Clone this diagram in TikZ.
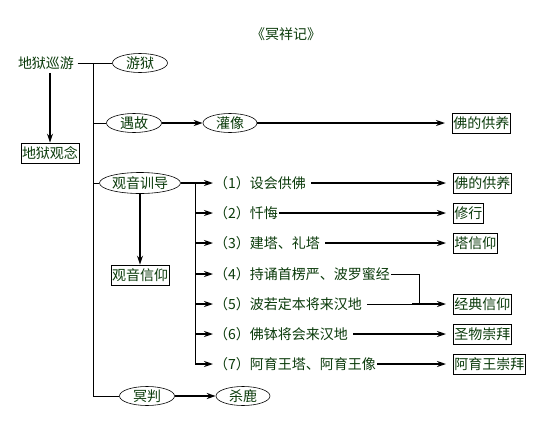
\documentclass[tikz,border=0pt]{standalone}
\usepackage{fontspec}
\setmainfont{Noto Sans CJK SC}
\usetikzlibrary{shapes.geometric,arrows.meta}
\definecolor{tg}{HTML}{0A3A0A}
\begin{document}
\begin{tikzpicture}[x=1pt,y=-1pt,
  every node/.style={font=\fontsize{14}{14}\selectfont, text=tg},
  oval/.style={draw=black, ellipse, inner sep=0pt, minimum height=19pt, line width=0.6pt},
  boxed/.style={draw=black, inner sep=1pt, minimum height=20pt, line width=0.8pt, anchor=west},
  item/.style={anchor=west, inner sep=1pt},
  plain/.style={line width=0.8pt},
  arr/.style={line width=2pt, -{Stealth[length=9pt,width=6pt]}}]
\useasboundingbox (0,0) rectangle (550,429);
\node (title) at (286,34) {《冥祥记》};
\node (dy) at (46,63) {地狱巡游};
\node[oval, minimum width=55pt] (yy) at (140,63) {游狱};
\node[draw=black, inner sep=1pt, minimum height=20pt, line width=0.8pt] (dg) at (50,153) {地狱观念};
\node[oval, minimum width=55pt] (yg) at (134,123) {遇故};
\node[oval, minimum width=54pt] (gx) at (230,123) {灌像};
\node[boxed] (b0) at (452,123) {佛的供养};
\node[oval, minimum width=81pt, minimum height=21pt] (gy) at (140,183) {观音训导};
\node[draw=black, inner sep=1pt, minimum height=20pt, line width=0.8pt] (gyx) at (140,275) {观音信仰};
\node[oval, minimum width=55pt] (mp) at (147,396) {冥判};
\node[oval, minimum width=54pt] (sl) at (243,396) {杀鹿};

\node[item] (i1) at (213,183) {（1）设会供佛};
\node[item] (i2) at (213,213) {（2）忏悔};
\node[item] (i3) at (213,243) {（3）建塔、礼塔};
\node[item] (i4) at (213,274) {（4）持诵首楞严、波罗蜜经};
\node[item] (i5) at (213,304) {（5）波若定本将来汉地};
\node[item] (i6) at (213,334) {（6）佛钵将会来汉地};
\node[item] (i7) at (213,364) {（7）阿育王塔、阿育王像};

\node[boxed] (b1) at (453,183) {佛的供养};
\node[boxed] (b2) at (453,213) {修行};
\node[boxed] (b3) at (453,243) {塔信仰};
\node[boxed] (b5) at (453,304) {经典信仰};
\node[boxed] (b6) at (453,334) {圣物崇拜};
\node[boxed] (b7) at (453,364) {阿育王崇拜};

% trunk
\coordinate (tTop) at (93,63);
\coordinate (tBot) at (93,396);
\draw[plain] (dy.east) -- (yy.west);
\draw[plain] (tTop) -- (tBot);
\draw[plain] (tTop |- yg.west) -- (yg.west);
\draw[plain] (tTop |- gy.west) -- (gy.west);
\draw[plain] (tBot) -- (mp.west);

\draw[arr] (dy.south -| dg.north) -- (dg.north);
\draw[arr] (yg.east) -- (gx.west);
\draw[arr, shorten >=7pt] (gx.east) -- (b0.west);
\draw[arr] (gy.south -| gyx.north) -- (gyx.north);
\draw[arr] (gy.east) -- (i1.west);
\draw[arr] (mp.east) -- (sl.west);

% branch
\coordinate (bTop) at (195,183);
\coordinate (bBot) at (195,364);
\draw[plain] (bTop) -- (bBot);
\foreach \i in {2,...,7}{
  \draw[arr] (bTop |- i\i.west) -- (i\i.west);
}
\draw[arr, shorten >=7pt, shorten <=4pt] (i1.east) -- (b1.west);
\draw[arr, shorten >=7pt] (i2.east) -- (b2.west);
\draw[arr, shorten >=7pt, shorten <=4pt] (i3.east) -- (b3.west);
\coordinate (j4) at (419,304);
\coordinate (k5) at (412,304);
\draw[plain] (i4.east) -| (j4);
\draw[plain, shorten <=4pt] (i5.east) -- (k5);
\draw[arr, shorten >=7pt] (k5) -- (b5.west);
\draw[arr, shorten >=7pt, shorten <=4pt] (i6.east) -- (b6.west);
\draw[arr, shorten >=7pt] (i7.east) -- (b7.west);
\end{tikzpicture}
\end{document}
